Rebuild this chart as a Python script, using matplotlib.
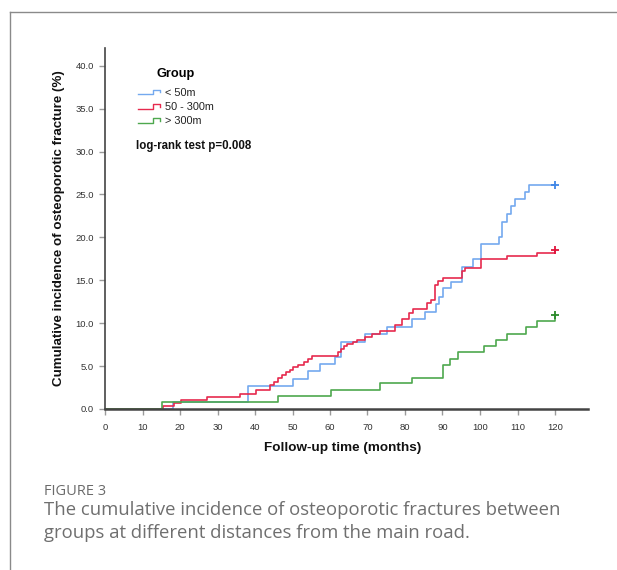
import matplotlib
matplotlib.use("Agg")
import matplotlib.pyplot as plt
from matplotlib.lines import Line2D
from matplotlib.legend_handler import HandlerBase
import numpy as np

plt.rcParams['font.family'] = ['Liberation Sans', 'DejaVu Sans']

# data (months, cumulative incidence %)
groups = ['< 50m', '50 - 300m', '> 300m']
colors = ['#74a9ef', '#e62a4e', '#4ea84e']
plus_colors = ['#3f86e6', '#e0143c', '#2a8a2a']

t_near = [18.2, 38.2, 50.2, 54.2, 57.2, 61.2, 63.0, 69.2, 75.3, 82.0, 85.3, 88.3,
          89.2, 90.2, 92.2, 95.1, 98.1, 100.2, 105.2, 106.0, 107.1, 108.2, 109.2,
          112.0, 113.1, 120.0]
y_near = [0.8, 2.65, 3.5, 4.4, 5.25, 6.1, 7.85, 8.7, 9.6, 10.5, 11.25, 12.2,
          13.1, 14.05, 14.85, 16.5, 17.45, 19.2, 20.1, 21.8, 22.7, 23.6, 24.5,
          25.3, 26.1, 26.1]

t_mid = [15.4, 18.3, 20.2, 27.1, 36.0, 40.2, 44.0, 45.0, 46.2, 47.3, 48.3, 49.3,
         50.2, 51.4, 53.0, 54.2, 55.2, 62.0, 62.8, 63.6, 64.5, 66.0, 67.1, 69.2,
         71.3, 73.2, 77.2, 79.1, 81.1, 82.1, 86.0, 86.9, 88.0, 88.9, 90.2, 95.1,
         96.0, 100.2, 107.1, 115.1, 120.0]
y_mid = [0.35, 0.75, 1.1, 1.45, 1.8, 2.2, 2.8, 3.2, 3.6, 3.95, 4.3, 4.6,
         4.9, 5.15, 5.45, 5.8, 6.2, 6.65, 7.0, 7.3, 7.6, 7.85, 8.05, 8.4,
         8.7, 9.1, 9.8, 10.5, 11.2, 11.6, 12.3, 12.7, 14.5, 14.9, 15.3, 16.1,
         16.4, 17.5, 17.8, 18.2, 18.5]

t_far = [15.1, 46.2, 60.2, 73.2, 82.0, 90.2, 92.0, 94.2, 101.1, 104.2, 107.1,
         112.2, 115.1, 120.0]
y_far = [0.8, 1.5, 2.2, 3.0, 3.6, 5.1, 5.8, 6.6, 7.3, 8.0, 8.75, 9.5, 10.2, 10.9]

series = [(t_near, y_near), (t_mid, y_mid), (t_far, y_far)]

x_ticks = np.arange(0, 121, 10)
y_ticks = np.arange(0, 40.1, 5)


class StepHandler(HandlerBase):
    def create_artists(self, legend, orig_handle, xdescent, ydescent,
                       width, height, fontsize, trans):
        xs = [0, 0.68 * width, 0.68 * width, width, width]
        ys = [0.2 * height, 0.2 * height, 0.75 * height, 0.75 * height, 0.45 * height]
        ln = Line2D(np.array(xs) - xdescent, np.array(ys) - ydescent,
                    color=orig_handle.get_color(), lw=1.0, transform=trans)
        return [ln]


fig = plt.figure(figsize=(6.17, 5.70), dpi=100)
ax = fig.add_axes([105 / 617, 161 / 570, 483 / 617, 361.3 / 570])

handles = []
for (tt, yy), c, pc, name in zip(series, colors, plus_colors, groups):
    tt = [0] + tt
    yy = [0] + yy
    h, = ax.step(tt, yy, where='post', color=c, lw=1.2, label=name)
    ax.plot(tt[-1], yy[-1], marker='+', color=pc, ms=6, mew=1.3)
    handles.append(h)

ax.set_xlim(0, 128.8)
ax.set_ylim(0, 42.1)
ax.set_xticks(x_ticks)
ax.set_yticks(y_ticks)
ax.set_yticklabels(['%.1f' % v for v in y_ticks])
ax.tick_params(axis='both', length=4, width=1, color='#9a9a9a',
               labelsize=6.8, labelcolor='#333333')
ax.tick_params(axis='y', pad=4)
ax.tick_params(axis='x', pad=6)
for s in ['top', 'right']:
    ax.spines[s].set_visible(False)
ax.spines['left'].set_color('#444444')
ax.spines['left'].set_linewidth(1.2)
ax.spines['bottom'].set_color('#444444')
ax.spines['bottom'].set_linewidth(1.8)

ax.set_ylabel('Cumulative incidence of osteoporotic fracture (%)',
              fontsize=9.6, fontweight='bold', color='#111111')
ax.yaxis.set_label_coords(-0.082, 0.5)
ax.set_xlabel('Follow-up time (months)', fontsize=9.7, fontweight='bold',
              color='#111111')
ax.xaxis.set_label_coords(0.491, -0.09)

leg = ax.legend(handles=handles, labels=groups, title='Group',
                handler_map={Line2D: StepHandler()},
                loc='upper left', bbox_to_anchor=(0.068, 0.945),
                frameon=False, fontsize=7.8, handlelength=2.0,
                handletextpad=0.55, labelspacing=0.38, borderpad=0,
                borderaxespad=0,
                title_fontproperties={'weight': 'bold', 'size': 9.2})
leg._legend_box.sep = 6
for t in leg.get_texts():
    t.set_color('#222222')

ax.text(0.065, 0.727, 'log-rank test p=0.008', transform=ax.transAxes,
        fontsize=8.3, fontweight='bold', ha='left', va='center', color='#111111')

# frame of the figure box
fig.add_artist(Line2D([10 / 617, 10 / 617], [0, 1 - 12 / 570],
                      transform=fig.transFigure, color='#8a8a8a', lw=1))
fig.add_artist(Line2D([10 / 617, 1], [1 - 12 / 570, 1 - 12 / 570],
                      transform=fig.transFigure, color='#8a8a8a', lw=1))

cap_font = ['Open Sans', 'DejaVu Sans']
fig.text(44 / 617, 1 - 495 / 570, 'FIGURE 3', fontsize=10.5, color='#6b6b6b',
         family=cap_font, ha='left', va='baseline')
fig.text(44 / 617, 1 - 515 / 570,
         'The cumulative incidence of osteoporotic fractures between',
         fontsize=13.3, color='#6f6f6f', family=cap_font,
         ha='left', va='baseline')
fig.text(44 / 617, 1 - 538 / 570,
         'groups at different distances from the main road.',
         fontsize=13.3, color='#6f6f6f', family=cap_font,
         ha='left', va='baseline')

fig.savefig('out.png', dpi=100)
